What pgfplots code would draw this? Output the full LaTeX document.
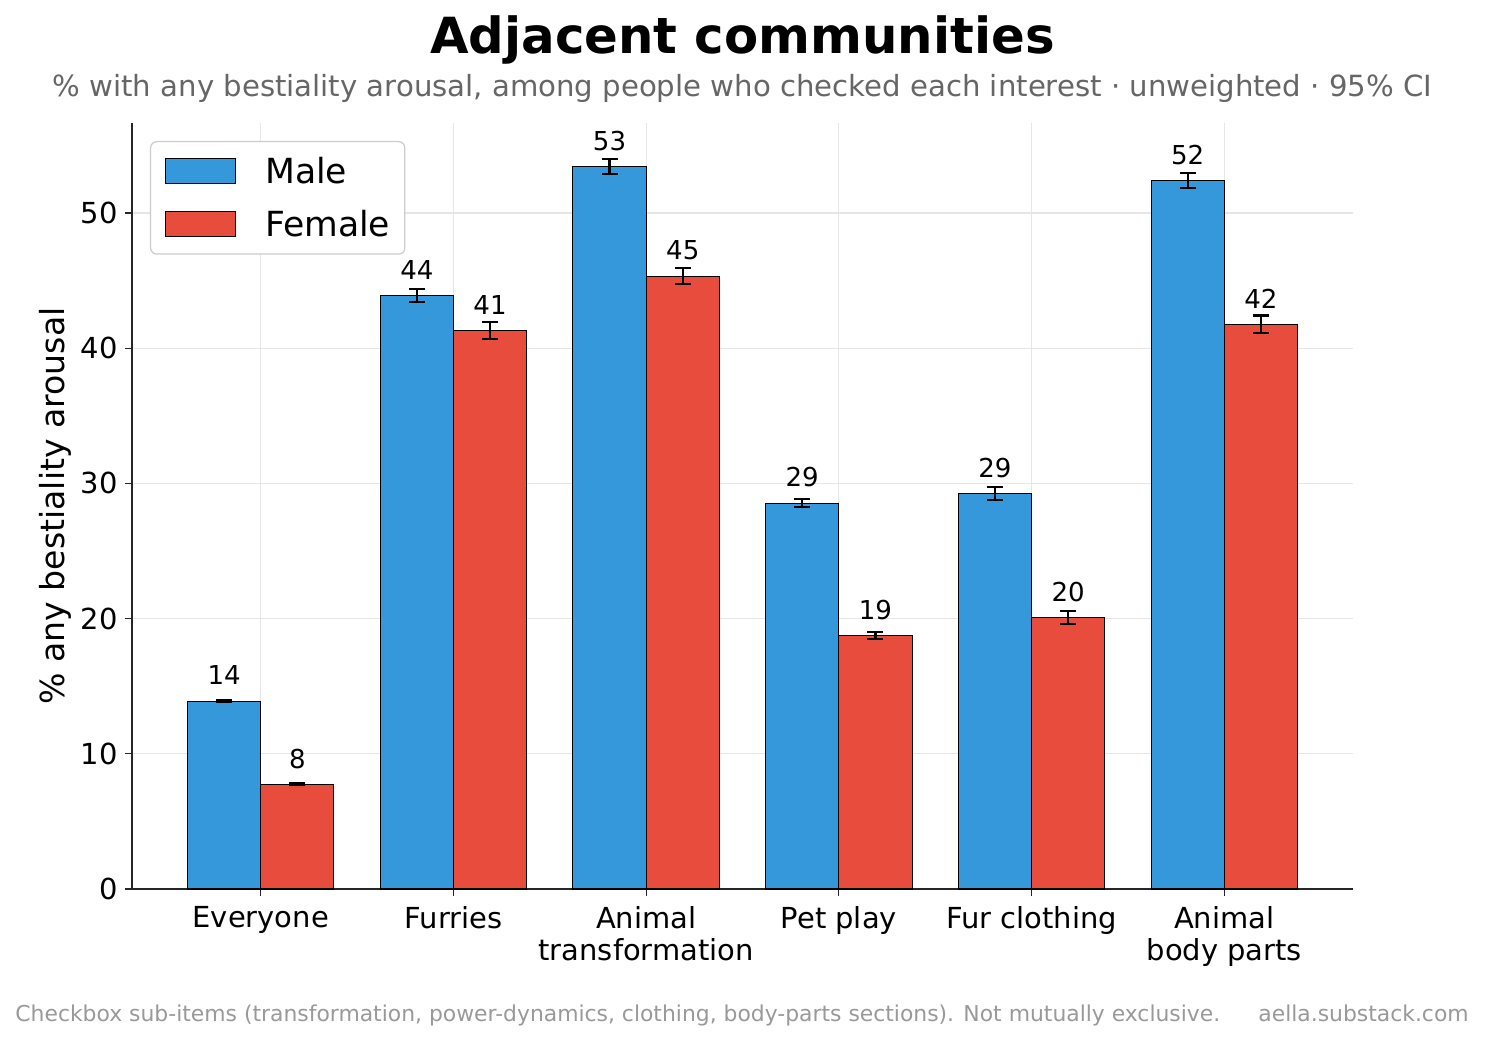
\documentclass[border=0pt]{standalone}
\usepackage{pgfplots}
\pgfplotsset{compat=1.18}
\usepackage{pgfplotstable}
\usepackage{fontspec}
\setmainfont{DejaVu Sans}

\definecolor{maleblue}{HTML}{3498DB}
\definecolor{femalered}{HTML}{E74C3C}
\definecolor{subgray}{HTML}{666666}
\definecolor{footgray}{HTML}{999999}
\definecolor{gridgray}{HTML}{E6E6E6}
\definecolor{legendgray}{HTML}{CCCCCC}

% share with any bestiality arousal, with 95% CI half-widths
\pgfplotstableread{
x y err
0 13.90 0.10
1 43.90 0.47
2 53.45 0.54
3 28.55 0.32
4 29.26 0.49
5 52.39 0.55
}\maletable
\pgfplotstableread{
x y err
0 7.74 0.08
1 41.30 0.61
2 45.34 0.58
3 18.76 0.25
4 20.09 0.49
5 41.76 0.66
}\femaletable

\begin{document}
\begin{tikzpicture}
\useasboundingbox (-63.36pt,-72pt) rectangle (649.44pt,426.72pt);
\begin{axis}[
  scale only axis, width=586.08pt, height=367.68pt,
  xmin=-0.668, xmax=5.668, ymin=0, ymax=56.66,
  axis x line*=bottom, axis y line*=left,
  axis line style={line width=0.7pt, black!85},
  tick align=outside, major tick length=3.4pt,
  tick style={line width=0.6pt, black!85},
  xtick={0,...,5},
  xticklabels={Everyone, Furries, Animal\\transformation, Pet play, Fur clothing, Animal\\body parts},
  xticklabel style={align=center, yshift=-1.5pt, font=\fontsize{13.9}{15.1}\selectfont},
  ytick={0,10,...,50},
  yticklabel style={font=\fontsize{13.9}{15}\selectfont},
  /pgf/number format/assume math mode=true,
  grid=major, major grid style={draw=gridgray, line width=0.6pt},
  ylabel={\% any bestiality arousal},
  every axis y label/.style={at={(axis description cs:-0.063,0.5)}, rotate=90, anchor=center, font=\fontsize{15.9}{18}\selectfont},
  nodes near coords={\pgfmathprintnumber[fixed, precision=0]{\pgfplotspointmeta}},
  every node near coord/.append style={anchor=base, yshift=7.8pt, inner sep=0pt, text=black, font=\fontsize{12.5}{14}\selectfont},
  legend style={at={(axis description cs:0,1)}, anchor=north west, xshift=8.64pt, yshift=-8.64pt,
    draw=legendgray, line width=0.6pt, rounded corners=3pt, fill=white,
    font=\fontsize{16.6}{19}\selectfont, inner xsep=7pt, inner ysep=8pt,
    row sep=13pt, column sep=13.9pt,
    nodes={inner sep=0pt, text height=12pt, text depth=0pt}},
  legend cell align=left,
  legend image code/.code={\draw[#1, draw=black, line width=0.5pt, sharp corners] (0pt,-6pt) rectangle (33.6pt,6pt);},
]
% bars sit 0.19 either side of each category position
\addplot[ybar, bar width=0.38, bar shift=0, fill=maleblue, draw=black, line width=0.5pt,
  error bars/.cd, y dir=both, y explicit,
  error bar style={line width=1pt, black},
  error mark options={rotate=90, mark size=3.84pt, line width=1pt, black}]
  table[x expr=\thisrow{x}-0.19, y=y, y error=err]{\maletable};
\addlegendentry{Male}
\addplot[ybar, bar width=0.38, bar shift=0, fill=femalered, draw=black, line width=0.5pt,
  error bars/.cd, y dir=both, y explicit,
  error bar style={line width=1pt, black},
  error mark options={rotate=90, mark size=3.84pt, line width=1pt, black}]
  table[x expr=\thisrow{x}+0.19, y=y, y error=err]{\femaletable};
\addlegendentry{Female}
\end{axis}
\node[anchor=base, font=\fontsize{23.9}{28}\selectfont\bfseries] at (293pt,400.9pt) {Adjacent communities};
\node[anchor=base, text=subgray, font=\fontsize{14}{16}\selectfont] at (293pt,380.2pt)
  {\% with any bestiality arousal, among people who checked each interest · unweighted · 95\% CI};
\node[anchor=base west, text=footgray, inner sep=0pt, font=\fontsize{10.5}{12}\selectfont] at (-56.16pt,-63.7pt)
  {Checkbox sub-items (transformation, power-dynamics, clothing, body-parts sections). Not mutually exclusive.};
\node[anchor=base east, text=footgray, inner sep=0pt, font=\fontsize{10.5}{12}\selectfont] at (641.8pt,-63.7pt)
  {aella.substack.com};
\end{tikzpicture}
\end{document}
